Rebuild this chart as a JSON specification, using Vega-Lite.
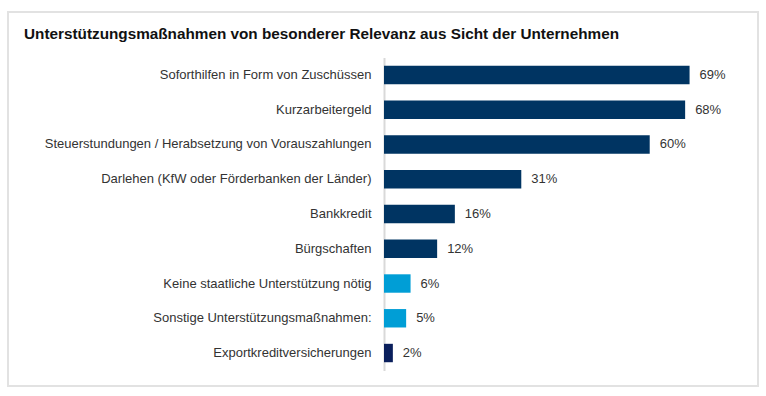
{
  "$schema": "https://vega.github.io/schema/vega-lite/v6.json",
  "width": 750,
  "height": 374,
  "autosize": {"type": "none"},
  "padding": {"left": 8, "top": 12, "right": 8, "bottom": 10},
  "background": "white",
  "config": {"view": {"stroke": "#e2e2e2", "strokeWidth": 2}},
  "title": {
    "text": "Unterstützungsmaßnahmen von besonderer Relevanz aus Sicht der Unternehmen",
    "anchor": "start",
    "frame": "group",
    "dx": 16,
    "offset": -30,
    "font": "Liberation Sans",
    "fontSize": 15.3,
    "fontWeight": "bold",
    "color": "#111111"
  },
  "data": {
    "values": [
      {"massnahme": "Soforthilfen in Form von Zuschüssen", "anteil": 0.69, "gruppe": "dunkel"},
      {"massnahme": "Kurzarbeitergeld", "anteil": 0.68, "gruppe": "dunkel"},
      {"massnahme": "Steuerstundungen / Herabsetzung von Vorauszahlungen", "anteil": 0.60, "gruppe": "dunkel"},
      {"massnahme": "Darlehen (KfW oder Förderbanken der Länder)", "anteil": 0.31, "gruppe": "dunkel"},
      {"massnahme": "Bankkredit", "anteil": 0.16, "gruppe": "dunkel"},
      {"massnahme": "Bürgschaften", "anteil": 0.12, "gruppe": "dunkel"},
      {"massnahme": "Keine staatliche Unterstützung nötig", "anteil": 0.06, "gruppe": "hell"},
      {"massnahme": "Sonstige Unterstützungsmaßnahmen:", "anteil": 0.05, "gruppe": "hell"},
      {"massnahme": "Exportkreditversicherungen", "anteil": 0.02, "gruppe": "export"}
    ]
  },
  "encoding": {
    "y": {
      "field": "massnahme",
      "type": "nominal",
      "sort": null,
      "scale": {"range": [45.6, 358.4], "paddingInner": 0.47, "paddingOuter": 0.235},
      "axis": {
        "title": null,
        "offset": -376,
        "ticks": false,
        "domain": true,
        "domainColor": "#d9d9d9",
        "domainWidth": 2,
        "labelPadding": 13,
        "labelFont": "Liberation Sans",
        "labelFontSize": 13,
        "labelColor": "#333333",
        "labelLimit": 400
      }
    },
    "x": {
      "field": "anteil",
      "type": "quantitative",
      "scale": {"domain": [0, 0.84], "range": [376, 748], "nice": false},
      "axis": null
    }
  },
  "layer": [
    {
      "mark": {"type": "bar"},
      "encoding": {
        "color": {
          "field": "gruppe",
          "type": "nominal",
          "scale": {"domain": ["dunkel", "hell", "export"], "range": ["#003462", "#009ed6", "#0a1f5c"]},
          "legend": null
        }
      }
    },
    {
      "mark": {"type": "text", "align": "left", "dx": 10, "font": "Liberation Sans", "fontSize": 13, "color": "#333333"},
      "encoding": {
        "text": {"field": "anteil", "type": "quantitative", "format": ".0%"}
      }
    }
  ]
}
